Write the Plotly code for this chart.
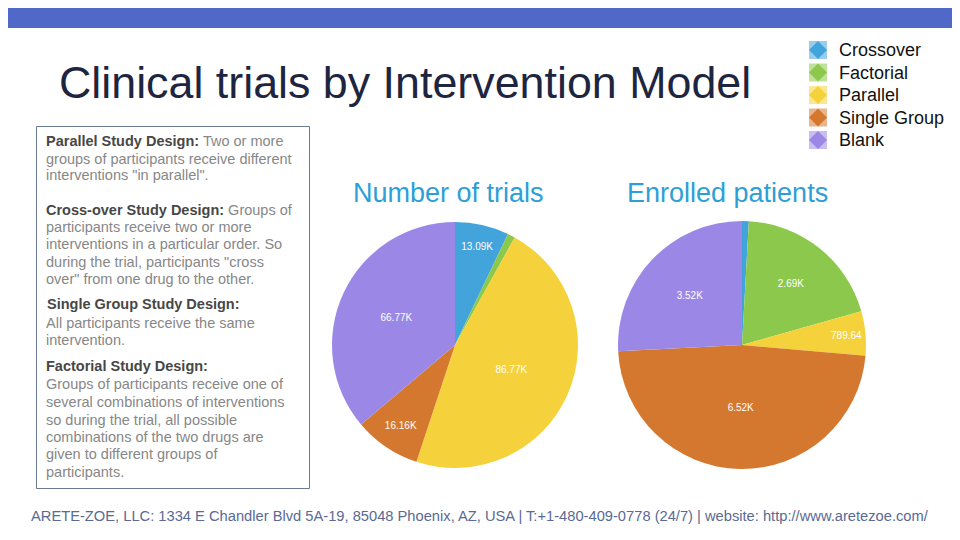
import plotly.graph_objects as go

# ---- data ----
categories = ["Crossover", "Factorial", "Parallel", "Single Group", "Blank"]
trials_values = [13090, 1800, 86770, 16160, 66770]
enrolled_values = [120, 2690, 789.64, 6520, 3520]
colors = ["#43a4dc", "#8cc84b", "#f5d13b", "#d5782f", "#9b88e6"]

title_text = "Clinical trials by Intervention Model"
sub_titles = ["Number of trials", "Enrolled patients"]
footer_text = ("ARETE-ZOE, LLC: 1334 E Chandler Blvd 5A-19, 85048 Phoenix, AZ, USA | "
               "T:+1-480-409-0778 (24/7) | website: http://www.aretezoe.com/")

# (text, bold, y-centre in page pixels)
text_lines = [
    ("<b>Parallel Study Design:</b> Two or more", 140.5),
    ("groups of participants receive different", 158.5),
    ("interventions \"in parallel\".", 175),
    ("<b>Cross-over Study Design:</b> Groups of", 209.5),
    ("participants receive two or more", 226.5),
    ("interventions in a particular order. So", 244),
    ("during the trial, participants \"cross", 261.5),
    ("over\" from one drug to the other.", 279),
    ("<b>Single Group Study Design:</b>", 304),
    ("All participants receive the same", 322.5),
    ("intervention.", 340),
    ("<b>Factorial Study Design:</b>", 366),
    ("Groups of participants receive one of", 384),
    ("several combinations of interventions", 402),
    ("so during the trial, all possible", 419.5),
    ("combinations of the two drugs are", 436.5),
    ("given to different groups of", 454),
    ("participants.", 471.5),
]


def fmt(v, total):
    if v / total < 0.03:
        return ""
    if v >= 1000:
        return f"{v/1000:.2f}K"
    return f"{v:.2f}"


# page is shown with an 8px body margin; the figure occupies [8, 952] x [8, 532]
OFF = 8
W, H = 944, 524


def px(x):
    return (x - OFF) / W


def py(y):
    return 1 - (y - OFF) / H


fig = go.Figure()

for vals, (x0, x1) in [
    (trials_values, (332, 578)),
    (enrolled_values, (618, 866)),
]:
    tot = sum(vals)
    fig.add_trace(go.Pie(
        labels=categories,
        values=vals,
        text=[fmt(v, tot) for v in vals],
        textinfo="text",
        textposition="inside",
        insidetextorientation="horizontal",
        textfont=dict(family="Arial", size=10, color="white"),
        marker=dict(colors=colors, line=dict(width=0)),
        sort=False,
        direction="clockwise",
        rotation=0,
        domain=dict(x=[px(x0), px(x1)], y=[py(469), py(221)]),
        showlegend=False,
        hoverinfo="label+value",
    ))

shapes = [
    dict(type="rect", xref="paper", yref="paper", x0=0, x1=1, y0=py(28), y1=1,
         fillcolor="#5068c8", line=dict(width=0), layer="below"),
    dict(type="rect", xref="paper", yref="paper", x0=px(36.5), x1=px(309.5),
         y0=py(488.5), y1=py(126.5), fillcolor="rgba(0,0,0,0)",
         line=dict(color="#6a7a96", width=1)),
]

annotations = [
    dict(text=title_text, x=px(57), y=py(82), xanchor="left", yanchor="middle",
         showarrow=False, font=dict(family="Arial", size=44.8, color="#1e2540")),
    dict(text=sub_titles[0], x=px(448), y=py(193), xanchor="center", yanchor="middle",
         showarrow=False, font=dict(family="Arial", size=27, color="#2e9fd6")),
    dict(text=sub_titles[1], x=px(727), y=py(193), xanchor="center", yanchor="middle",
         showarrow=False, font=dict(family="Arial", size=27, color="#2e9fd6")),
    dict(text=footer_text, x=px(480), y=py(516), xanchor="center", yanchor="middle",
         showarrow=False, font=dict(family="Arial", size=14.7, color="#5a6a94")),
]

for txt, yc in text_lines:
    xl = 46 if txt.startswith("<b>Single") else 44.5
    annotations.append(dict(
        text=txt.replace("<b>", "<b><span style='color:#474747'>").replace("</b>", "</span></b>"),
        x=px(xl), y=py(yc), xanchor="left", yanchor="middle", align="left",
        showarrow=False, borderpad=0,
        font=dict(family="Arial", size=14.5, color="#878787"),
    ))

# legend drawn by hand (icon + label per category)
leg_y = [50, 72.5, 95, 117.5, 140]
for cat, col, yc in zip(categories, colors, leg_y):
    shapes.append(dict(type="rect", xref="paper", yref="paper",
                       x0=px(809), x1=px(827), y0=py(yc + 9), y1=py(yc - 9),
                       fillcolor=col, opacity=0.55, line=dict(width=0)))
    path = (f"M {px(818)},{py(yc - 9)} L {px(827)},{py(yc)} "
            f"L {px(818)},{py(yc + 9)} L {px(809)},{py(yc)} Z")
    shapes.append(dict(type="path", xref="paper", yref="paper", path=path,
                       fillcolor=col, line=dict(width=0)))
    annotations.append(dict(text=cat, x=px(837), y=py(yc), xanchor="left",
                            yanchor="middle", showarrow=False,
                            font=dict(family="Arial", size=18, color="#111111")))

fig.update_layout(
    width=W, height=H,
    margin=dict(l=0, r=0, t=0, b=0),
    paper_bgcolor="white",
    plot_bgcolor="white",
    shapes=shapes,
    annotations=annotations,
    showlegend=False,
)

fig.write_html("out.html")
